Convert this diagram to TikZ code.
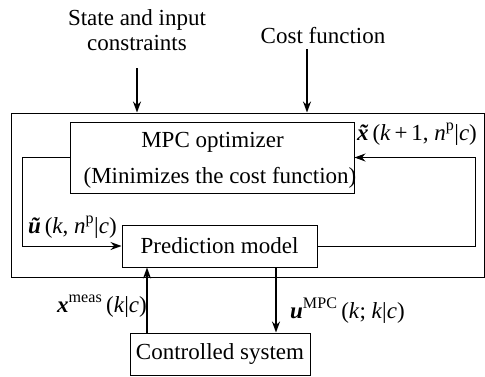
\documentclass[tikz,border=0pt]{standalone}
\usepackage{fontspec}
\setmainfont{Liberation Serif}
\usetikzlibrary{arrows.meta}
\newcommand{\bvec}[1]{\textbf{\textit{#1}}}
\newcommand{\ivar}[1]{\textit{#1}}
\newcommand{\sps}[1]{\textsuperscript{#1}}
\newcommand{\tildx}{\ooalign{\bvec{x}\cr\hidewidth\kern1.5pt\bvec{\char"02DC}\hidewidth\cr}}
\tikzset{
  box/.style={draw, line width=1pt, inner sep=0pt},
  txt/.style={inner sep=0pt, font=\fontsize{23}{27}\selectfont},
  varr/.style={line width=1.6pt, -{Stealth[length=11pt,width=8pt]}},
  larr/.style={line width=1pt, -{Stealth[length=11pt,width=8pt]}}
}
\begin{document}
\begin{tikzpicture}[x=1pt,y=-1pt]
\useasboundingbox (0,0) rectangle (485,376);
% boxes
\node[box, minimum width=473pt, minimum height=164pt] (outer) at (247.5,195) {};
\node[box, fill=white, minimum width=284pt, minimum height=71pt] (opt) at (212,157.5) {};
\node[box, fill=white, minimum width=195pt, minimum height=42pt] (pred) at (219.5,246) {};
\node[box, minimum width=180pt, minimum height=42pt] (ctrl) at (220,354) {};
% texts
\node[txt, anchor=base] (opt1) at (212.5,147) {MPC optimizer};
\node[txt, anchor=base] (opt2) at (220,183) {(Minimizes the cost function)};
\node[txt] (predt) at (pred.center) {Prediction model};
\node[txt] (ctrlt) at (ctrl.center) {Controlled system};
\node[txt, anchor=base] (st1) at (137,25) {State and input};
\node[txt, anchor=base] (st2) at (137,50) {constraints};
\node[txt, anchor=base] (cost) at (323,43) {Cost function};
% input arrows
\coordinate (a1) at (137,68);
\coordinate (a2) at (307,49);
\draw[varr] (a1) -- (a1 |- outer.north);
\draw[varr] (a2) -- (a2 |- outer.north);
% loops
\draw[larr] (opt.west) -- ++(-47,0) |- (pred.west);
\draw[larr] (pred.east) -- ++(158,0) |- (opt.east);
\node[txt, anchor=base west] (ulab) at (28,233) {\bvec{\~u}\,(\ivar{k}, \ivar{n}\sps{p}|\ivar{c})};
\node[txt, anchor=base west] (xlab) at (357,140) {\tildx\,(\ivar{k}\,+\,1, \ivar{n}\sps{p}|\ivar{c})};
% measurement / control arrows
\coordinate (xm) at (147,300);
\coordinate (um) at (276,300);
\draw[varr] (ctrl.north -| xm) -- (pred.south -| xm);
\draw[varr] (pred.south -| um) -- (ctrl.north -| um);
\node[txt, anchor=base east] (xmlab) at (147,312) {\bvec{x}\sps{meas}\,(\ivar{k}|\ivar{c})};
\node[txt, anchor=base west] (umlab) at (290,318) {\bvec{u}\sps{MPC}\,(\ivar{k}; \ivar{k}|\ivar{c})};
\end{tikzpicture}
\end{document}
